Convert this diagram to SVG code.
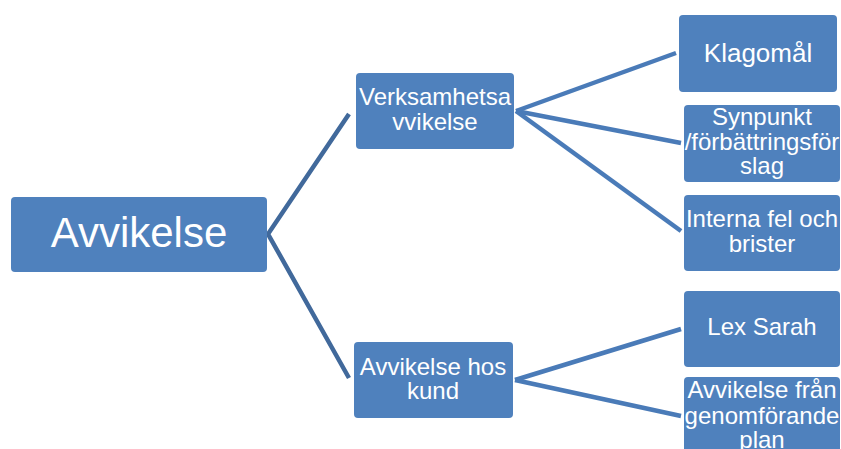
<svg xmlns="http://www.w3.org/2000/svg" width="841" height="449" viewBox="0 0 841 449">
<style>
.box{fill:#4F81BD;}
.t{fill:#FFFFFF;font-family:"Liberation Sans",Arial,sans-serif;text-anchor:middle;}
.c1{stroke:#41699B;stroke-width:4.5;fill:none;}
.c2{stroke:#4A7BB8;stroke-width:4.5;fill:none;}
</style>
<rect width="841" height="449" fill="#FFFFFF"/>
<g id="connectors">
<polyline class="c1" points="349,114 268,234 349,378"/>
<line class="c2" x1="516" y1="111" x2="676" y2="53"/>
<line class="c2" x1="516" y1="111" x2="681" y2="143"/>
<line class="c2" x1="516" y1="111" x2="681" y2="231"/>
<line class="c2" x1="515" y1="380" x2="681" y2="329"/>
<line class="c2" x1="515" y1="380" x2="681" y2="416"/>
</g>
<g id="n-avvikelse">
<rect class="box" x="11" y="197" width="256" height="75" rx="4"/>
<text class="t" x="139" y="247" font-size="42">Avvikelse</text>
</g>
<g id="n-verksamhet">
<rect class="box" x="356" y="73" width="158" height="76" rx="4"/>
<text class="t" x="435" y="105" font-size="24">Verksamhetsa</text>
<text class="t" x="435" y="130" font-size="24">vvikelse</text>
</g>
<g id="n-hoskund">
<rect class="box" x="354" y="342" width="159" height="76" rx="4"/>
<text class="t" x="433" y="375" font-size="24">Avvikelse hos</text>
<text class="t" x="433" y="399" font-size="24">kund</text>
</g>
<g id="n-klagomal">
<rect class="box" x="679" y="15" width="158" height="77" rx="4"/>
<text class="t" x="758" y="62" font-size="26">Klagomål</text>
</g>
<g id="n-synpunkt">
<rect class="box" x="684" y="105" width="156" height="77" rx="4"/>
<text class="t" x="762" y="125" font-size="24">Synpunkt</text>
<text class="t" x="762" y="150" font-size="24">/förbättringsför</text>
<text class="t" x="762" y="174" font-size="24">slag</text>
</g>
<g id="n-interna">
<rect class="box" x="684" y="195" width="156" height="76" rx="4"/>
<text class="t" x="762" y="227" font-size="24">Interna fel och</text>
<text class="t" x="762" y="252" font-size="24">brister</text>
</g>
<g id="n-lexsarah">
<rect class="box" x="684" y="291" width="156" height="76" rx="4"/>
<text class="t" x="762" y="335" font-size="24">Lex Sarah</text>
</g>
<g id="n-genomforande">
<rect class="box" x="684" y="377" width="156" height="80" rx="4"/>
<text class="t" x="762" y="398" font-size="24">Avvikelse från</text>
<text class="t" x="762" y="424" font-size="24">genomförande</text>
<text class="t" x="762" y="448" font-size="24">plan</text>
</g>
</svg>
